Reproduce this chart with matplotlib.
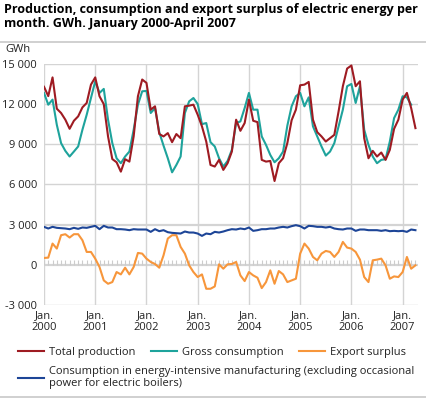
import numpy as np
import matplotlib
matplotlib.use('Agg')
import matplotlib.pyplot as plt
from matplotlib.lines import Line2D

plt.rcParams['font.family'] = ['Open Sans', 'DejaVu Sans']

# monthly values, January 2000 - April 2007 (GWh)
total_production = [
    13300, 12600, 14000, 11660, 11340, 10840, 10160, 10760, 11090, 11760, 12090, 13460,
    14000, 12590, 12000, 9590, 7900, 7660, 6960, 7890, 7710, 9590, 12590, 13840,
    13590, 11590, 11840, 9770, 9590, 9840, 9160, 9770, 9460, 11840, 11890, 11960,
    11210, 10340, 9210, 7460, 7340, 7840, 7090, 7590, 8460, 10840, 10010, 10590,
    12340, 10760, 10660, 7840, 7710, 7760, 6260, 7590, 7960, 9100, 10800, 11590,
    13410, 13460, 13660, 10840, 9910, 9590, 9210, 9460, 9710, 11460, 13340, 14660,
    14890, 13340, 13710, 9460, 7960, 8510, 8090, 8390, 7840, 8590, 10160, 10840,
    12340, 12840, 11710, 10210,
]
gross_consumption = [
    12840, 11960, 12340, 10460, 9090, 8510, 8090, 8460, 8840, 10090, 11210, 12460,
    13710, 12840, 13140, 10840, 9090, 7960, 7590, 8090, 8460, 10090, 11960, 12960,
    12990, 11340, 11710, 9900, 8900, 7960, 6910, 7460, 8090, 11340, 12210, 12460,
    12010, 10510, 10590, 9160, 8840, 7960, 7340, 7760, 8590, 10590, 10710, 11710,
    12840, 11590, 11590, 9590, 8960, 8210, 7660, 7960, 8460, 10400, 11840, 12590,
    12840, 11840, 12510, 10340, 9590, 8840, 8160, 8460, 9090, 10340, 11590, 13340,
    13510, 12090, 13340, 10090, 8960, 8090, 7590, 7840, 7890, 9210, 10960, 11590,
    12590, 12510, 11960, np.nan,
]
export_surplus = [
    513, 538, 1588, 1213, 2213, 2288, 2038, 2288, 2288, 1838, 963, 963,
    463, -163, -1163, -1413, -1288, -538, -713, -213, -713, -163, 888, 838,
    463, 213, 63, -213, 713, 1963, 2213, 2213, 1338, 838, -38, -538,
    -913, -713, -1788, -1788, -1613, 38, -288, 38, 63, 213, -788, -1213,
    -538, -788, -963, -1738, -1288, -413, -1413, -463, -713, -1288, -1163, -1038,
    838, 1588, 1213, 588, 338, 838, 1038, 963, 588, 963, 1713, 1288,
    1213, 963, 388, -913, -1288, 338, 388, 463, -38, -1038, -863, -913,
    -538, 588, -288, -38,
]
energy_intensive = [
    2838, 2713, 2838, 2763, 2738, 2713, 2663, 2763, 2688, 2788, 2763, 2838,
    2913, 2663, 2913, 2788, 2788, 2663, 2663, 2638, 2588, 2663, 2638, 2638,
    2638, 2463, 2663, 2513, 2588, 2438, 2388, 2363, 2338, 2488, 2413, 2413,
    2338, 2163, 2338, 2288, 2463, 2413, 2488, 2588, 2663, 2638, 2713, 2663,
    2788, 2538, 2588, 2663, 2663, 2713, 2713, 2788, 2838, 2788, 2888, 2963,
    2888, 2713, 2913, 2888, 2838, 2838, 2788, 2838, 2713, 2663, 2638, 2713,
    2713, 2538, 2638, 2638, 2588, 2588, 2588, 2538, 2588, 2513, 2538, 2513,
    2538, 2463, 2638, 2588,
]
years = ['2000', '2001', '2002', '2003', '2004', '2005', '2006', '2007']

months = np.arange(len(total_production))

c_red = '#9e1b22'
c_teal = '#1ea39c'
c_orange = '#f7963b'
c_blue = '#1d4597'
grid_c = '#d4d4d4'
txt_c = '#222222'

fig = plt.figure(figsize=(4.26, 3.99), dpi=100)
ax = fig.add_axes([44 / 426, 1 - 305 / 399, 374 / 426, 241 / 399])

ax.set_xlim(0, 87.6)
ax.set_ylim(-3000, 15000)
yticks = np.arange(-3000, 15001, 3000)
ax.set_yticks(yticks)
ax.set_yticklabels([f'{v:,}'.replace(',', ' ') for v in yticks])
ax.set_xticks(np.arange(0, len(years)) * 12)
ax.set_xticklabels(['Jan.\n' + y for y in years], linespacing=1.0)

for s in ax.spines.values():
    s.set_visible(False)
ax.tick_params(length=0, labelsize=8, colors=txt_c)
ax.tick_params(axis='y', pad=5)
ax.tick_params(axis='x', pad=4)

for v in yticks:
    lw = 1.6 if v in (3000, 0) else 1.0
    ax.axhline(v, color=grid_c, lw=lw, zorder=0)
for x in ax.get_xticks():
    ax.axvline(x, color=grid_c, lw=1.0, zorder=0)
# monthly tick marks on the zero line
ax.vlines(months, 0, 330, color='#cccccc', lw=0.8, zorder=0)

lw = 1.5
l1, = ax.plot(months, total_production, color=c_red, lw=lw, zorder=3)
l2, = ax.plot(months, gross_consumption, color=c_teal, lw=lw, zorder=2)
l3, = ax.plot(months, export_surplus, color=c_orange, lw=lw, zorder=2)
l4, = ax.plot(months, energy_intensive, color=c_blue, lw=lw, zorder=2)

fig.text(5 / 426, 1 - 50 / 399, 'GWh', fontsize=8, color=txt_c, va='center')
fig.text(4 / 426, 1 - 3 / 399,
         'Production, consumption and export surplus of electric energy per\n'
         'month. GWh. January 2000-April 2007',
         fontsize=9, fontweight='bold', va='top', ha='left', linespacing=1.15)

fig.add_artist(Line2D([0, 1], [1 - 42 / 399] * 2, color='#c8c8c8', lw=1.2))
fig.add_artist(Line2D([0, 1], [1 - 397 / 399] * 2, color='#c8c8c8', lw=1.2))

leg1 = fig.legend([l1, l2, l3], ['Total production', 'Gross consumption', 'Export surplus'],
                  ncol=3, loc='upper left', bbox_to_anchor=(18 / 426, 1 - 347 / 399),
                  frameon=False, fontsize=8, handlelength=2.3, handletextpad=0.45,
                  columnspacing=1.45, borderpad=0, borderaxespad=0, labelcolor=txt_c)
leg2 = fig.legend([l4], ['Consumption in energy-intensive manufacturing (excluding occasional\n'
                         'power for electric boilers)'],
                  loc='upper left', bbox_to_anchor=(18 / 426, 1 - 366 / 399),
                  frameon=False, fontsize=8, handlelength=2.3, handletextpad=0.45,
                  borderpad=0, borderaxespad=0, labelcolor=txt_c)
for t in leg2.get_texts():
    t.set_linespacing(1.1)

fig.savefig('out.png', dpi=100)
